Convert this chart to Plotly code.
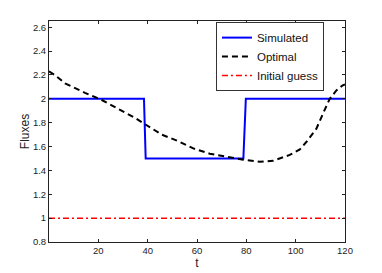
import plotly.graph_objects as go

# Data
sim_t = [0, 38.5, 39.2, 78.8, 79.8, 120]
sim_v = [2.0, 2.0, 1.5, 1.5, 2.0, 2.0]

opt_t = [0, 2.5, 6.5, 10.5, 14.6, 21.4, 26.8, 34.9, 38.9, 45.7, 52.4, 58.5,
         65.2, 73.3, 78.7, 85.4, 90.8, 97.6, 101.7, 104.4, 108.4, 111.1,
         113.8, 116.5, 118.9, 120]
opt_v = [2.23, 2.197, 2.13, 2.09, 2.05, 1.99, 1.93, 1.84, 1.787, 1.70, 1.645,
         1.584, 1.54, 1.51, 1.49, 1.472, 1.48, 1.53, 1.576, 1.64, 1.75, 1.877,
         2.0, 2.07, 2.11, 2.12]

init_t = [0, 120]
init_v = [1.0, 1.0]

x_ticks = [20, 40, 60, 80, 100, 120]
y_ticks = [0.8, 1.0, 1.2, 1.4, 1.6, 1.8, 2.0, 2.2, 2.4, 2.6]
y_tick_text = ["0.8", "1", "1.2", "1.4", "1.6", "1.8", "2", "2.2", "2.4", "2.6"]

FONT = "Liberation Sans, Arial, Helvetica, sans-serif"

fig = go.Figure()
fig.add_trace(go.Scatter(x=sim_t, y=sim_v, mode="lines", name="Simulated",
                         line=dict(color="#0000ff", width=2)))
fig.add_trace(go.Scatter(x=opt_t, y=opt_v, mode="lines", name="Optimal",
                         line=dict(color="#000000", width=2, dash="6px,4px")))
fig.add_trace(go.Scatter(x=init_t, y=init_v, mode="lines", name="Initial guess",
                         line=dict(color="#ff0000", width=1.5, dash="6px,3px,2px,3px")))

axis_common = dict(showline=True, linecolor="#222", linewidth=1, mirror="ticks",
                   ticks="inside", ticklen=3, tickcolor="#222", showgrid=False,
                   zeroline=False, automargin=False,
                   tickfont=dict(family=FONT, size=9.5, color="#222"))

fig.update_xaxes(range=[0, 120], tickvals=x_ticks,
                 title=dict(text="t", font=dict(family=FONT, size=12, color="#222"), standoff=2),
                 **axis_common)
fig.update_yaxes(range=[0.8, 2.652], tickvals=y_ticks, ticktext=y_tick_text,
                 title=dict(text="Fluxes", font=dict(family=FONT, size=12, color="#222"), standoff=0),
                 **axis_common)

# page body has an 8px margin; size figure so the plot area lands where the reference's does
fig.update_layout(
    width=374, height=265,
    margin=dict(l=41, r=37, t=13, b=31),
    paper_bgcolor="white", plot_bgcolor="white",
    font=dict(family=FONT, size=11.5, color="#111"),
    legend=dict(x=0.564, y=0.995, xanchor="left", yanchor="top",
                bgcolor="white", bordercolor="#333", borderwidth=1,
                font=dict(family=FONT, size=11.5), tracegroupgap=0,
                itemwidth=30),
    showlegend=True,
)

fig.write_html("out.html")
